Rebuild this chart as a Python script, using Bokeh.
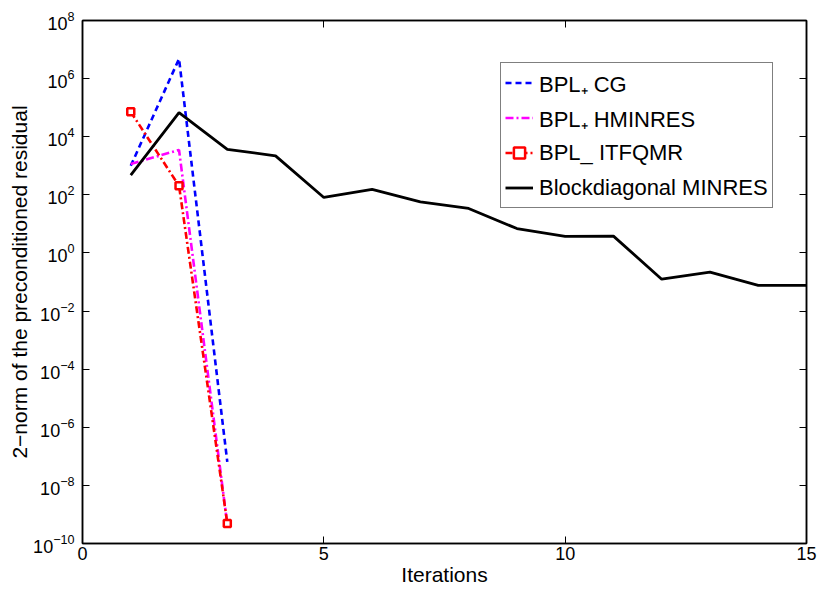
from bokeh.plotting import figure
from bokeh.models import (Range1d, FixedTicker, LinearAxis, LogAxis, Legend, LegendItem,
                          CustomJSTickFormatter, LogTickFormatter)
from bokeh.embed import file_html
from bokeh.resources import INLINE

# ---- data ----
iters_short = [1, 2, 3]
cg_res = [1000, 4.8e6, 6.4e-8]
hminres_res = [1150, 3500, 4.6e-10]
itfqmr_res = [7.2e4, 204, 4.9e-10]

iters_long = list(range(1, 16))
minres_res = [480, 6.8e4, 3700, 2200, 81, 153, 57, 34, 6.9, 3.7, 3.8, 0.125, 0.22, 0.076, 0.076]

x_ticks = [0, 5, 10, 15]
y_ticks = [1e-10, 1e-8, 1e-6, 1e-4, 1e-2, 1e0, 1e2, 1e4, 1e6, 1e8]

labels = ["BPL\u208a CG", "BPL\u208a HMINRES", "BPL_ ITFQMR", "Blockdiagonal MINRES"]

FONT = "Liberation Sans"

p = figure(width=819, height=591, y_axis_type="log", output_backend="svg",
           toolbar_location=None, x_range=Range1d(0, 15), y_range=Range1d(1e-10, 1e8),
           min_border_left=82, min_border_right=13, min_border_top=20, min_border_bottom=48)
p.background_fill_color = "white"
p.border_fill_color = "white"
p.outline_line_color = "black"
p.outline_line_width = 1.5
p.xgrid.visible = False
p.ygrid.visible = False

# main axes
xa = p.xaxis[0]
ya = p.yaxis[0]
xa.ticker = FixedTicker(ticks=x_ticks, minor_ticks=[])
ya.ticker = FixedTicker(ticks=y_ticks, minor_ticks=[])
ya.formatter = LogTickFormatter()
for ax in (xa, ya):
    ax.major_tick_in = 7
    ax.major_tick_out = 0
    ax.minor_tick_line_color = None
    ax.axis_line_width = 1.5
    ax.major_tick_line_width = 1
    ax.major_label_text_font = FONT
    ax.major_label_text_font_size = "18px"
    ax.major_label_text_color = "black"
    ax.axis_label_text_font = FONT
    ax.axis_label_text_font_size = "21px"
    ax.axis_label_text_font_style = "normal"
    ax.axis_label_text_color = "black"
xa.axis_label = "Iterations"
ya.axis_label = "2\u2212norm of the preconditioned residual"
xa.major_label_standoff = 3
xa.axis_label_standoff = 0
ya.major_label_standoff = 8
ya.axis_label_standoff = -1

# mirrored axes (top and right), ticks only
empty = CustomJSTickFormatter(code="return ''")
top = LinearAxis(ticker=FixedTicker(ticks=x_ticks, minor_ticks=[]), formatter=empty)
right = LogAxis(ticker=FixedTicker(ticks=y_ticks, minor_ticks=[]), formatter=empty)
for ax in (top, right):
    ax.major_tick_in = 7
    ax.major_tick_out = 0
    ax.minor_tick_line_color = None
    ax.axis_line_width = 1.5
    ax.major_label_standoff = 0
    ax.major_label_text_font_size = "1px"
p.add_layout(top, "above")
p.add_layout(right, "right")

# series
r_cg = p.line(iters_short, cg_res, line_color="#0000ff", line_width=2.6, line_dash="6 4")
r_hm = p.line(iters_short, hminres_res, line_color="#ff00ff", line_width=2.6, line_dash="8 3 2 3")
r_it = p.line(iters_short, itfqmr_res, line_color="#ff0000", line_width=2.6, line_dash="7 3 2 3")
r_itm = p.scatter(iters_short, itfqmr_res, marker="square", size=7,
                  line_color="#ff0000", fill_color="white", line_width=2.5)
r_mr = p.line(iters_long, minres_res, line_color="black", line_width=2.8)

legend = Legend(items=[
    LegendItem(label=labels[0], renderers=[r_cg]),
    LegendItem(label=labels[1], renderers=[r_hm]),
    LegendItem(label=labels[2], renderers=[r_it, r_itm]),
    LegendItem(label=labels[3], renderers=[r_mr]),
], location=(418, 335))
legend.label_text_font = FONT
legend.label_text_font_size = "22px"
legend.label_text_color = "black"
legend.border_line_color = "black"
legend.border_line_width = 1.2
legend.background_fill_color = "white"
legend.background_fill_alpha = 1
legend.padding = 4
legend.spacing = 4
legend.label_height = 31
legend.glyph_height = 31
legend.glyph_width = 28
legend.label_standoff = 6
legend.margin = 0
p.add_layout(legend)

open("out.html", "w").write(file_html(p, INLINE))
